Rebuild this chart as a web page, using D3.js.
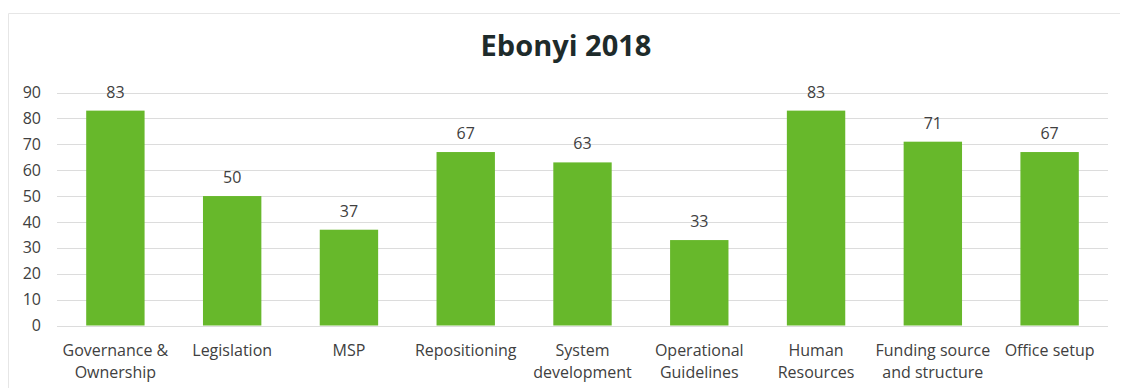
<!DOCTYPE html>
<html>
<head>
<meta charset="utf-8">
<script src="https://cdn.jsdelivr.net/npm/d3@7"></script>
<style>
  html, body { margin: 0; padding: 0; background: #fff; }
  svg { display: block; }
  text { font-family: "Open Sans", "DejaVu Sans", sans-serif; }
</style>
</head>
<body>
<svg id="chart" width="1123" height="388"></svg>
<script>
// Chart data
const title = "Ebonyi 2018";
const categories = [
  "Governance & Ownership", "Legislation", "MSP", "Repositioning",
  "System development", "Operational Guidelines", "Human Resources",
  "Funding source and structure", "Office setup"
];
const values = [83, 50, 37, 67, 63, 33, 83, 71, 67];
const yTicks = [0, 10, 20, 30, 40, 50, 60, 70, 80, 90];

const svg = d3.select("#chart");
const plot = { left: 57, right: 1108, top: 92.5, bottom: 325.5 };

// faint frame edges (top and left) around the chart area
svg.append("path")
  .attr("d", "M8.5,400 V13.5 H1120")
  .attr("fill", "none").attr("stroke", "#e6e6e6").attr("stroke-width", 1);

const x = d3.scaleBand()
  .domain(categories)
  .range([plot.left, plot.right])
  .paddingInner(0.5)
  .paddingOuter(0.25);

const y = d3.scaleLinear()
  .domain([0, 90])
  .range([plot.bottom, plot.top]);

// title
svg.append("text")
  .attr("x", 566).attr("y", 56)
  .attr("text-anchor", "middle")
  .attr("font-size", 29).attr("font-weight", 700)
  .attr("fill", "#1e2b2b")
  .text(title);

// horizontal gridlines
svg.append("g")
  .selectAll("line")
  .data(yTicks)
  .join("line")
  .attr("x1", plot.left).attr("x2", plot.right)
  .attr("y1", d => Math.round(y(d)) + 0.5)
  .attr("y2", d => Math.round(y(d)) + 0.5)
  .attr("stroke", "#dcdcdc").attr("stroke-width", 1);

// y axis labels
const yAxis = d3.axisLeft(y).tickValues(yTicks).tickSize(0).tickPadding(0);
const gy = svg.append("g")
  .attr("transform", `translate(${41},0)`)
  .call(yAxis);
gy.select(".domain").remove();
gy.selectAll("text")
  .attr("font-size", 16)
  .attr("font-family", "Open Sans, sans-serif")
  .attr("fill", "#404040");

// bars
svg.append("g")
  .selectAll("rect")
  .data(values)
  .join("rect")
  .attr("x", (d, i) => x(categories[i]))
  .attr("y", d => y(d))
  .attr("width", x.bandwidth())
  .attr("height", d => y(0) - y(d))
  .attr("fill", "#67b82b");

// value labels
svg.append("g")
  .selectAll("text")
  .data(values)
  .join("text")
  .attr("x", (d, i) => x(categories[i]) + x.bandwidth() / 2)
  .attr("y", d => y(d) - 13)
  .attr("text-anchor", "middle")
  .attr("font-size", 16)
  .attr("fill", "#404040")
  .text(d => d);

// category labels, wrapped to the band step
const xAxis = d3.axisBottom(x).tickSize(0).tickPadding(0);
const gx = svg.append("g")
  .attr("transform", `translate(0,${plot.bottom})`)
  .call(xAxis);
gx.select(".domain").remove();
gx.selectAll("text")
  .attr("font-size", 16)
  .attr("font-family", "Open Sans, sans-serif")
  .attr("fill", "#404040")
  .each(function(d) {
    const t = d3.select(this);
    const words = d.split(" ");
    const maxW = x.step() - 2;
    t.text(null);
    let lines = [], cur = [];
    const probe = t.append("tspan");
    words.forEach(w => {
      const test = cur.concat([w]).join(" ");
      probe.text(test);
      if (cur.length && probe.node().getComputedTextLength() > maxW) {
        lines.push(cur.join(" "));
        cur = [w];
      } else {
        cur.push(w);
      }
    });
    lines.push(cur.join(" "));
    probe.remove();
    t.attr("dy", null).attr("y", 0);
    lines.forEach((ln, i) => {
      t.append("tspan")
        .attr("x", 0)
        .attr("y", 30 + i * 22)
        .text(ln);
    });
  });
</script>
</body>
</html>
